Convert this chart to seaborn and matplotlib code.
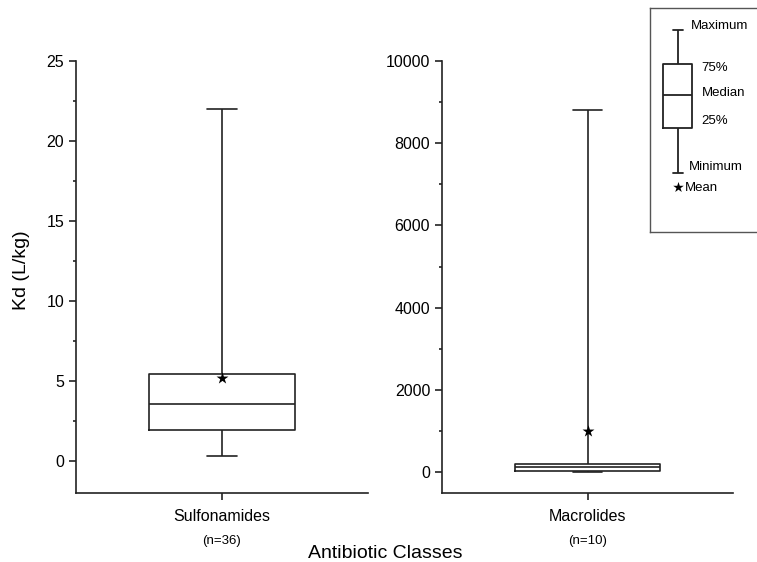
import numpy as np
import pandas as pd
import matplotlib.pyplot as plt
from matplotlib.ticker import MultipleLocator
import seaborn as sns

# five-number summaries: min, Q1, median, Q3, max
classes = ['Sulfonamides', 'Macrolides']
n_counts = [36, 10]
sulfa_kd = [0.28, 1.92, 3.52, 5.43, 22.0]
macro_kd = [3, 40, 120, 200, 8800]
kd_means = [5.2, 1000]

# schematic box used in the key (fractions of the key height)
key_box = [0.263, 0.465, 0.61, 0.75, 0.902]
key_mean = 0.2
key_labels = ['Maximum', '75%', 'Median', '25%', 'Minimum', 'Mean']

sns.set_style('ticks')
plt.rcParams['font.family'] = ['Liberation Sans', 'DejaVu Sans']
plt.rcParams['text.color'] = 'black'
plt.rcParams['xtick.labelcolor'] = 'black'
plt.rcParams['ytick.labelcolor'] = 'black'
line_col = '#222222'

fig = plt.figure(figsize=(7.57, 5.62), dpi=100)
ax1 = fig.add_axes([0.1004, 0.1233, 0.3857, 0.7681])
ax2 = fig.add_axes([0.5839, 0.1233, 0.3844, 0.7681])

panels = [
    (ax1, sulfa_kd, kd_means[0], classes[0], n_counts[0], (-2, 25), 5),
    (ax2, macro_kd, kd_means[1], classes[1], n_counts[1], (-500, 10000), 2000),
]

for ax, vals, mean, cls, n, ylim, step in panels:
    df = pd.DataFrame({'cls': cls, 'kd': vals})
    sns.boxplot(data=df, x='cls', y='kd', whis=(0, 100), width=0.5, fill=False,
                color=line_col, linewidth=1.2, capwidths=0.1, ax=ax)
    sns.stripplot(x=[cls], y=[mean], marker='*', size=9, color='black',
                  jitter=False, ax=ax)
    ax.set_xlim(-0.5, 0.5)
    ax.set_ylim(*ylim)
    ax.set_yticks(np.arange(0, ylim[1] + 1, step))
    ax.yaxis.set_minor_locator(MultipleLocator(step / 2))
    ax.set_xlabel('')
    ax.set_ylabel('')
    sns.despine(ax=ax)
    for sp in ['left', 'bottom']:
        ax.spines[sp].set_linewidth(1.2)
        ax.spines[sp].set_color(line_col)
    ax.tick_params(axis='both', which='major', length=5, width=1.2, labelsize=11.5,
                   color=line_col, labelcolor='black')
    ax.tick_params(axis='x', pad=7)
    ax.tick_params(axis='y', which='minor', length=2.5, width=1.2, color=line_col)
    ax.annotate(f'(n={n})', xy=(0, 0), xycoords=('data', 'axes fraction'),
                xytext=(0, -34.6), textcoords='offset points',
                ha='center', va='center', fontsize=9.5, color='black')

fig.text(22 / 757, 1 - 270 / 562, 'Kd (L/kg)', rotation=90, ha='center',
         va='center', fontsize=14, color='black')
fig.text(385 / 757, 1 - 553 / 562, 'Antibiotic Classes', ha='center',
         va='center', fontsize=14, color='black')

# key box in the top right corner
key = fig.add_axes([650 / 757, 1 - 232 / 562, 120 / 757, 224.5 / 562])
kdf = pd.DataFrame({'cls': 'key', 'v': key_box})
sns.boxplot(data=kdf, x='cls', y='v', whis=(0, 100), width=0.5, fill=False,
            color=line_col, linewidth=1.3, capwidths=0.16, ax=key)
sns.stripplot(x=['key'], y=[key_mean], marker='*', size=8, color='black',
              jitter=False, ax=key)
key.set_xlim(-0.482, 1.588)
key.set_ylim(0, 1)
key.set_xticks([])
key.set_yticks([])
key.set_xlabel('')
key.set_ylabel('')
for sp in key.spines.values():
    sp.set_color('#555555')
    sp.set_linewidth(1.0)
key_pos = [(0.342, 0.918), (0.425, 0.730), (0.433, 0.621),
           (0.425, 0.495), (0.325, 0.291), (0.29, 0.196)]
for lab, (tx, ty) in zip(key_labels, key_pos):
    key.text(tx, ty, lab, transform=key.transAxes, ha='left', va='center',
             fontsize=9.5, color='black')

fig.savefig('out.png', dpi=100)
